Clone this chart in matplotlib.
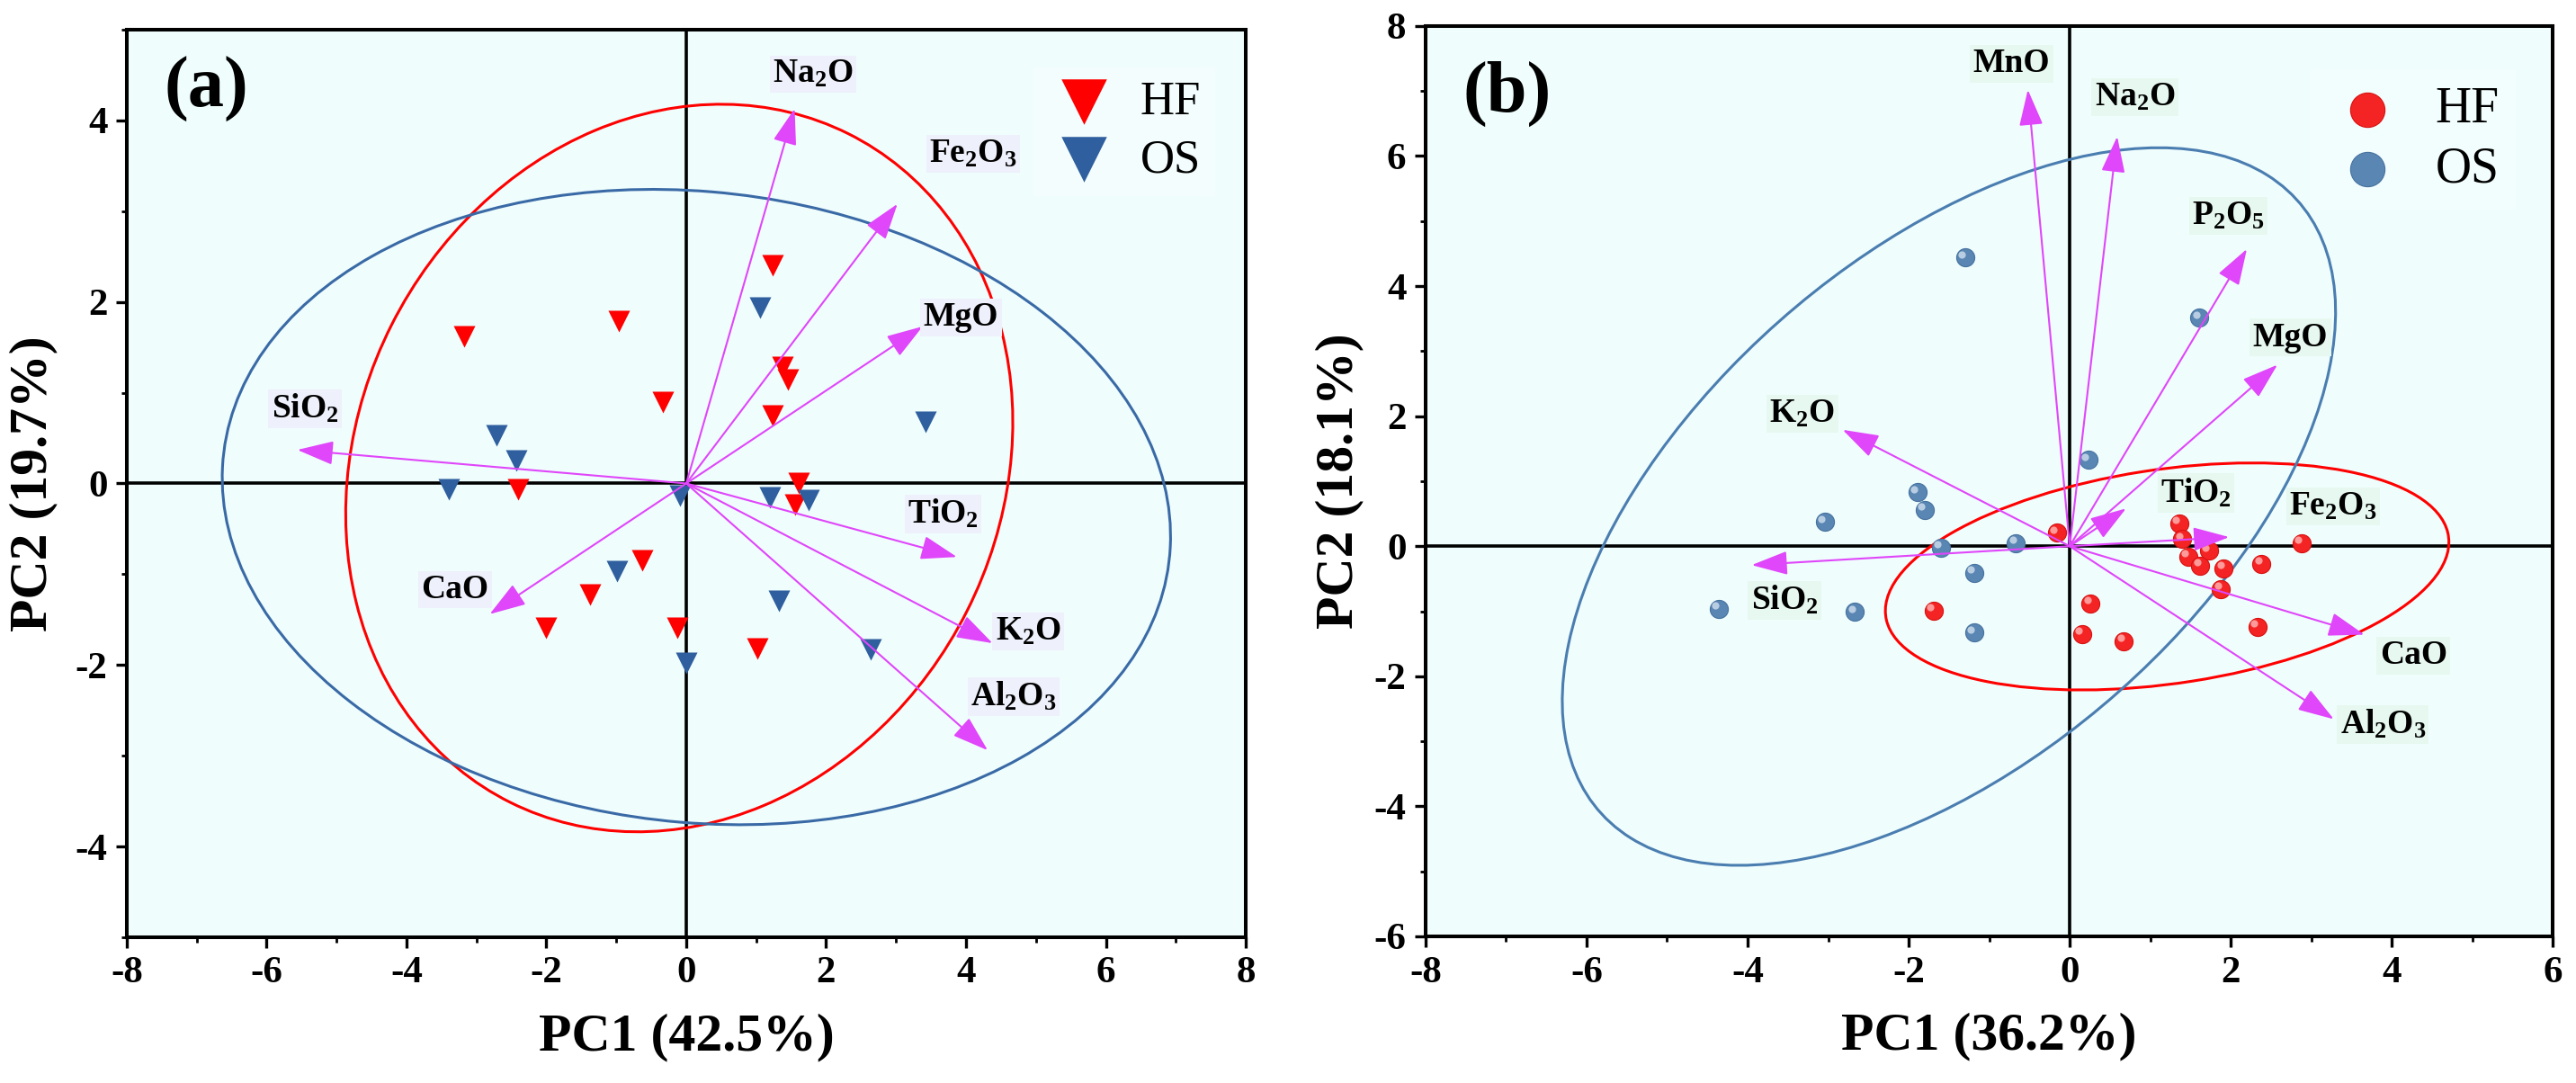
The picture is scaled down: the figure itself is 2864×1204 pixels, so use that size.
import numpy as np
import matplotlib
matplotlib.use('Agg')
import matplotlib.pyplot as plt
from matplotlib.patches import Ellipse
from matplotlib.ticker import MultipleLocator, AutoMinorLocator
from matplotlib.transforms import offset_copy

# ---- panel (a): PCA scores ----
a_hf_x = [-3.18, -0.97, -0.34, -2.41, -0.63, -1.38, -2.01, -0.13, 1.23, 1.38, 1.45, 1.23, 1.61, 1.56, 1.01]
a_hf_y = [1.62, 1.79, 0.90, -0.06, -0.85, -1.22, -1.59, -1.59, 2.40, 1.28, 1.14, 0.75, 0.00, -0.23, -1.82]
a_os_x = [-2.71, -2.43, -3.39, -0.99, -0.09, 0.00, 1.06, 3.42, 1.20, 1.75, 1.32, 2.64]
a_os_y = [0.53, 0.25, -0.06, -0.97, -0.13, -1.98, 1.94, 0.68, -0.15, -0.18, -1.29, -1.83]

# loadings (arrow tips) and label positions
a_vars = [r'Na$_2$O', r'Fe$_2$O$_3$', 'MgO', r'TiO$_2$', r'K$_2$O', r'Al$_2$O$_3$', r'SiO$_2$', 'CaO']
a_load_x = [1.55, 3.02, 3.38, 3.87, 4.38, 4.31, -5.56, -2.81]
a_load_y = [4.13, 3.08, 1.73, -0.81, -1.76, -2.94, 0.37, -1.44]
a_lab_x = [1.81, 4.10, 3.93, 3.67, 4.89, 4.68, -5.45, -3.31]
a_lab_y = [4.51, 3.63, 1.83, -0.34, -1.63, -2.35, 0.82, -1.17]

# confidence ellipses: center x, center y, width, height, angle
a_ell_hf = [-0.10, 0.17, 9.70, 7.82, 17.9]
a_ell_os = [0.145, -0.26, 13.58, 6.96, -3.7]

# ---- panel (b) ----
b_hf_x = [-0.16, -1.69, 0.26, 0.15, 0.67, 1.36, 1.40, 1.47, 1.62, 1.73, 1.91, 1.88, 2.38, 2.33, 2.88]
b_hf_y = [0.21, -0.99, -0.88, -1.35, -1.46, 0.35, 0.11, -0.16, -0.30, -0.07, -0.34, -0.66, -0.27, -1.24, 0.05]
b_os_x = [-4.36, -3.04, -2.67, -1.89, -1.80, -1.30, 1.61, 0.23, -1.60, -0.67, -1.19, -1.19]
b_os_y = [-0.96, 0.37, -1.01, 0.83, 0.56, 4.44, 3.51, 1.33, -0.02, 0.05, -0.41, -1.33]

b_vars = ['MnO', r'Na$_2$O', r'P$_2$O$_5$', 'MgO', r'TiO$_2$', r'Fe$_2$O$_3$', 'CaO', r'Al$_2$O$_3$', r'K$_2$O', r'SiO$_2$']
b_load_x = [-0.52, 0.59, 2.20, 2.58, 0.70, 1.98, 3.66, 3.28, -2.82, -3.95]
b_load_y = [7.02, 6.30, 4.57, 2.79, 0.58, 0.14, -1.36, -2.66, 1.79, -0.29]
b_lab_x = [-0.72, 0.81, 1.97, 2.74, 1.57, 3.27, 4.27, 3.89, -3.32, -3.54]
b_lab_y = [7.42, 6.91, 5.08, 3.21, 0.82, 0.61, -1.68, -2.74, 2.04, -0.83]

b_ell_hf = [1.21, -0.465, 7.10, 3.28, 10.95]
b_ell_os = [-1.50, 0.61, 12.90, 6.90, 52.2]

plt.rcParams['font.family'] = 'Liberation Serif'
plt.rcParams['font.weight'] = 'bold'
plt.rcParams['mathtext.fontset'] = 'custom'
plt.rcParams['mathtext.rm'] = 'Liberation Serif:bold'
plt.rcParams['mathtext.it'] = 'Liberation Serif:bold'
plt.rcParams['mathtext.bf'] = 'Liberation Serif:bold'
plt.rcParams['axes.unicode_minus'] = False

bg = '#effdfd'
arrow_c = '#e046fa'
red = '#ff0000'
blue_a = '#2f5f9e'

fig = plt.figure(figsize=(28.64, 12.04), dpi=100)
ax1 = fig.add_axes([0.0492, 0.1346, 0.4344, 0.838])
ax2 = fig.add_axes([0.5534, 0.1354, 0.4376, 0.8406])


def style_axes(ax, xlim, ylim, ystep):
	ax.set_facecolor(bg)
	ax.set_xlim(*xlim)
	ax.set_ylim(*ylim)
	ax.xaxis.set_major_locator(MultipleLocator(2))
	ax.yaxis.set_major_locator(MultipleLocator(ystep))
	ax.xaxis.set_minor_locator(AutoMinorLocator(2))
	ax.yaxis.set_minor_locator(AutoMinorLocator(2))
	ax.tick_params(which='major', direction='out', length=8.5, width=2.4, pad=7, labelsize=31)
	ax.tick_params(which='minor', direction='out', length=4.5, width=2.0)
	for s in ax.spines.values():
		s.set_linewidth(2.9)
	ax.axhline(0, color='black', lw=2.6, zorder=1)
	ax.axvline(0, color='black', lw=2.6, zorder=1)


def draw_arrows(ax, xs, ys, names, lx, ly, boxc):
	for i in range(len(xs)):
		ax.annotate('', xy=(xs[i], ys[i]), xytext=(0, 0),
			arrowprops=dict(arrowstyle='-|>,head_length=1.0,head_width=0.33', color=arrow_c,
				lw=1.5, mutation_scale=25, shrinkA=0, shrinkB=0), zorder=4)
		ax.text(lx[i], ly[i], names[i], fontsize=27, fontweight='bold', ha='center', va='center',
			bbox=dict(facecolor=boxc, edgecolor='none', pad=2.5), zorder=6)


# ---------- (a) ----------
style_axes(ax1, (-8, 8), (-5, 5), 2)
for e, c in [(a_ell_hf, red), (a_ell_os, '#3a6aa6')]:
	ax1.add_patch(Ellipse((e[0], e[1]), e[2], e[3], angle=e[4], fill=False, edgecolor=c, lw=2.2, zorder=2))
h1 = ax1.scatter(a_hf_x, a_hf_y, marker='v', s=300, color=red, linewidths=0, label='HF', zorder=3)
h2 = ax1.scatter(a_os_x, a_os_y, marker='v', s=300, color=blue_a, linewidths=0, label='OS', zorder=3)
draw_arrows(ax1, a_load_x, a_load_y, a_vars, a_lab_x, a_lab_y, '#eef0fb')
ax1.set_xlabel('PC1 (42.5%)', fontsize=43, fontweight='bold', labelpad=18)
ax1.set_ylabel('PC2 (19.7%)', fontsize=43, fontweight='bold', labelpad=14)
ax1.text(0.0715, 0.934, '(a)', transform=ax1.transAxes, fontsize=58, fontweight='bold', ha='center', va='center')
leg = ax1.legend(handles=[h1, h2], loc='upper right', bbox_to_anchor=(0.994, 0.985),
	prop={'size': 38, 'weight': 'normal'},
	markerscale=2.1, handlelength=1.5, handletextpad=0.45, labelspacing=0.3, borderpad=0.3,
	frameon=True, fancybox=False)
leg.get_frame().set_facecolor('#f5fdfd')
leg.get_frame().set_edgecolor('none')
leg.set_zorder(5)

# ---------- (b) ----------
style_axes(ax2, (-8, 6), (-6, 8), 2)
for e, c in [(b_ell_hf, red), (b_ell_os, '#4a7db0')]:
	ax2.add_patch(Ellipse((e[0], e[1]), e[2], e[3], angle=e[4], fill=False, edgecolor=c, lw=2.2, zorder=2))
hl = offset_copy(ax2.transData, fig=fig, x=-2.5, y=2.5, units='points')
s1 = ax2.scatter(b_hf_x, b_hf_y, s=210, color='#f52424', edgecolors='#d81010', linewidths=0.8, zorder=3)
s2 = ax2.scatter(b_os_x, b_os_y, s=210, color='#5a86b4', edgecolors='#46729f', linewidths=0.8, zorder=3)
ax2.scatter(b_hf_x, b_hf_y, s=35, color='#ff9a9a', linewidths=0, transform=hl, zorder=3)
ax2.scatter(b_os_x, b_os_y, s=35, color='#b8cde2', linewidths=0, transform=hl, zorder=3)
draw_arrows(ax2, b_load_x, b_load_y, b_vars, b_lab_x, b_lab_y, '#e6f8ef')
ax2.set_xlabel('PC1 (36.2%)', fontsize=43, fontweight='bold', labelpad=18)
ax2.set_ylabel('PC2 (18.1%)', fontsize=43, fontweight='bold', labelpad=8)
ax2.text(0.0726, 0.925, '(b)', transform=ax2.transAxes, fontsize=58, fontweight='bold', ha='center', va='center')
leg2 = ax2.legend(handles=[s1, s2], labels=['HF', 'OS'], loc='upper right', bbox_to_anchor=(0.99, 0.98),
	prop={'size': 40, 'weight': 'normal'}, markerscale=1.9, handlelength=1.6, handletextpad=0.55,
	labelspacing=0.25, borderpad=0.35, frameon=True, fancybox=False)
leg2.get_frame().set_facecolor('#f3fdfd')
leg2.get_frame().set_edgecolor('none')

fig.savefig('out.png', dpi=100)
